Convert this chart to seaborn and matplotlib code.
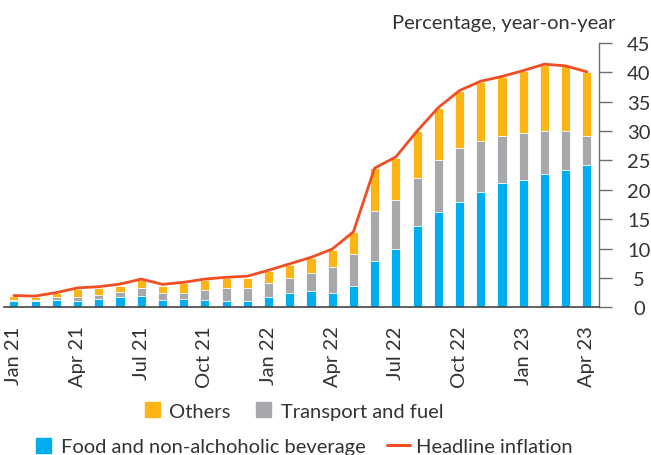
import numpy as np
import pandas as pd
import seaborn as sns
import matplotlib.pyplot as plt
from matplotlib.lines import Line2D

months = ["Jan", "Feb", "Mar", "Apr", "May", "Jun", "Jul", "Aug", "Sep", "Oct", "Nov", "Dec"]
periods = [f"{m} {y}" for y in ["21", "22"] for m in months] + ["Jan 23", "Feb 23", "Mar 23", "Apr 23"]

food = [1.0, 1.05, 1.3, 1.15, 1.4, 1.8, 1.95, 1.3, 1.4, 1.3, 1.15, 1.15, 1.8, 2.5,
        2.8, 2.5, 3.7, 7.8, 9.9, 13.8, 16.3, 17.9, 19.6, 21.1, 21.7, 22.7, 23.4, 24.3]
transport = [0.3, 0.25, 0.45, 0.65, 0.75, 0.85, 1.25, 1.1, 1.1, 1.6, 2.05, 2.1, 2.25, 2.45,
             3.0, 4.4, 5.45, 8.65, 8.3, 8.2, 8.8, 9.2, 8.7, 8.0, 7.9, 7.4, 6.6, 4.9]
others = [0.6, 0.5, 0.65, 1.3, 1.15, 1.05, 1.45, 1.2, 1.6, 1.7, 1.75, 1.8, 2.1, 2.3,
          2.6, 2.9, 3.65, 7.2, 7.3, 8.0, 8.8, 9.7, 10.1, 10.1, 10.6, 11.2, 11.0, 10.9]
headline = [2.0, 1.9, 2.5, 3.3, 3.5, 3.95, 4.8, 3.9, 4.25, 4.8, 5.1, 5.3, 6.3, 7.4,
            8.5, 9.9, 12.85, 23.7, 25.6, 30.0, 34.0, 36.9, 38.5, 39.3, 40.3, 41.4, 41.1, 40.1]

tick_labels = ["Jan 21", "Apr 21", "Jul 21", "Oct 21", "Jan 22", "Apr 22", "Jul 22", "Oct 22", "Jan 23", "Apr 23"]

df = pd.DataFrame({"period": periods, "food": food, "transport": transport,
                   "others": others, "headline": headline})
df["food_transport"] = df["food"] + df["transport"]
df["total"] = df["food_transport"] + df["others"]
df["pos"] = np.arange(len(df))

BLUE = "#00AEEF"
GREY = "#A7A8AB"
ORANGE = "#FDB515"
RED = "#F04E23"
FS = 14.5

sns.set_theme(style="white")
plt.rcParams["font.family"] = ["Lato", "DejaVu Sans"]
plt.rcParams["text.color"] = "#333333"

fig = plt.figure(figsize=(6.51, 4.56), dpi=100)
ax = fig.add_axes([0.006, 0.324, 0.914, 0.5795])

# stacked bars drawn as overlapping cumulative layers
bar_kw = dict(order=periods, width=0.43, edgecolor="white", linewidth=0.6, ax=ax)
sns.barplot(data=df, x="period", y="total", color=ORANGE, saturation=1, **bar_kw)
sns.barplot(data=df, x="period", y="food_transport", color=GREY, saturation=1, **bar_kw)
sns.barplot(data=df, x="period", y="food", color=BLUE, saturation=1, **bar_kw)
sns.lineplot(data=df, x="pos", y="headline", color=RED, linewidth=2.0, ax=ax)

ax.set_xlim(-0.47, 27.57)
ax.set_ylim(0, 45)
ax.set_xlabel("")
ax.set_ylabel("")
ax.set_xticks([periods.index(t) for t in tick_labels])
ax.set_xticklabels(tick_labels, rotation=90, fontsize=FS, color="#333333")
ax.tick_params(axis="x", length=0, pad=13)

ax.yaxis.tick_right()
ax.set_yticks(range(0, 46, 5))
ax.tick_params(axis="y", length=9, width=1, color="#6D6E71", pad=19.8,
               labelsize=FS, labelcolor="#333333")
for t in ax.get_yticklabels():
    t.set_ha("center")

for side in ["top", "left"]:
    ax.spines[side].set_visible(False)
ax.spines["right"].set_color("#6D6E71")
ax.spines["bottom"].set_color("#444444")
ax.spines["right"].set_linewidth(1)
ax.spines["bottom"].set_linewidth(1.2)

fig.text(0.945, 0.9357, "Percentage, year-on-year", ha="right", va="baseline", fontsize=FS)

def sq(c):
    return Line2D([], [], marker="s", linestyle="none", markersize=10.8, color=c)

leg_kw = dict(frameon=False, fontsize=FS, ncol=2, handlelength=1.14, handletextpad=0.3,
              columnspacing=1.05, borderpad=0, loc="center")
fig.legend([sq(ORANGE), sq(GREY)], ["Others", "Transport and fuel"],
           bbox_to_anchor=(0.4485, 0.0965), **leg_kw)
fig.legend([sq(BLUE), Line2D([], [], color=RED, linewidth=2.2)],
           ["Food and non-alchoholic beverage", "Headline inflation"],
           bbox_to_anchor=(0.464, 0.0185), **leg_kw)

fig.savefig("out.png", dpi=100)
